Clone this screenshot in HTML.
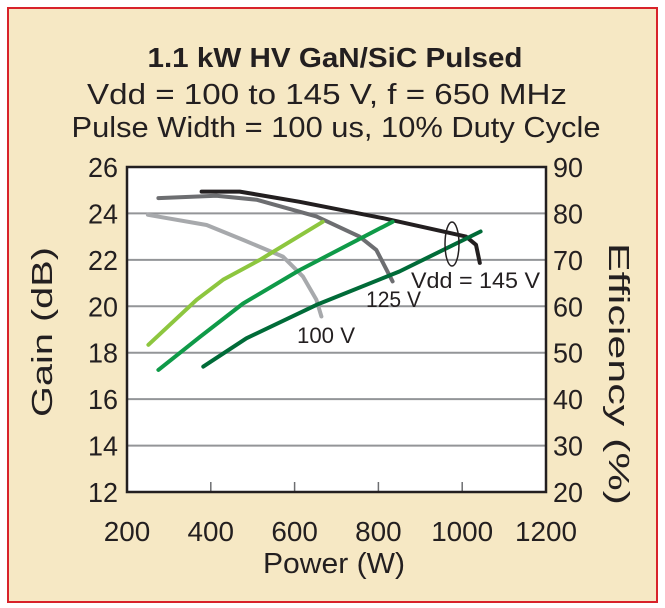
<!DOCTYPE html>
<html><head><meta charset="utf-8"><style>
html,body{margin:0;padding:0;background:#fff}
svg{display:block;font-family:"Liberation Sans",sans-serif}
</style></head><body>
<svg id="chart" width="665" height="608" viewBox="0 0 665 608">
<rect x="8" y="8" width="649" height="594" fill="#f6e8c4" stroke="#d8232a" stroke-width="2"/>
<text x="335" y="67" text-anchor="middle" font-size="28" font-weight="bold" fill="#231f20" textLength="375" lengthAdjust="spacingAndGlyphs">1.1 kW HV GaN/SiC Pulsed</text>
<text x="327" y="104" text-anchor="middle" font-size="29" fill="#231f20" textLength="480" lengthAdjust="spacingAndGlyphs">Vdd = 100 to 145 V, f = 650 MHz</text>
<text x="336" y="137" text-anchor="middle" font-size="29" fill="#231f20" textLength="529" lengthAdjust="spacingAndGlyphs">Pulse Width = 100 us, 10% Duty Cycle</text>
<rect x="127" y="167" width="419" height="325" fill="#fff"/>
<g id="grid"></g>
<g id="series"></g>
<rect x="127" y="167" width="419" height="325" fill="none" stroke="#231f20" stroke-width="2.5"/>
<ellipse cx="452" cy="244" rx="7" ry="22" fill="none" stroke="#231f20" stroke-width="1.5"/>
<text x="411" y="288" font-size="22" fill="#231f20" textLength="129" lengthAdjust="spacingAndGlyphs">Vdd = 145 V</text>
<text x="366" y="307" font-size="22" fill="#231f20" textLength="55" lengthAdjust="spacingAndGlyphs">125 V</text>
<text x="297" y="343" font-size="22" fill="#231f20" textLength="58" lengthAdjust="spacingAndGlyphs">100 V</text>
<text transform="translate(52,332) rotate(-90)" text-anchor="middle" font-size="29" fill="#231f20" textLength="170" lengthAdjust="spacingAndGlyphs">Gain (dB)</text>
<text transform="translate(609,374) rotate(90)" text-anchor="middle" font-size="29" fill="#231f20" textLength="262" lengthAdjust="spacingAndGlyphs">Efficiency (%)</text>
<text x="334" y="573" text-anchor="middle" font-size="29" fill="#231f20" textLength="142" lengthAdjust="spacingAndGlyphs">Power (W)</text>
</svg>
<script>
const xTicks=[200,400,600,800,1000,1200];
const gainTicks=[12,14,16,18,20,22,24,26];
const effTicks=[20,30,40,50,60,70,80,90];
const gainSeries=[
 {name:'gain-100v',color:'#a7a9ac',p:[250,390,477,572,620,652,664],v:[23.94,23.5,22.86,22.14,21.28,20.28,19.56]},
 {name:'gain-125v',color:'#6d6e71',p:[275,413,509,652,755,795,834],v:[24.66,24.76,24.59,23.87,23.0,22.43,21.07]},
 {name:'gain-145v',color:'#231f20',p:[378,469,612,810,1009,1033,1042],v:[24.94,24.94,24.5,23.8,23.0,22.65,21.87]}
];
const effSeries=[
 {name:'efficiency-100v',color:'#8dc63f',p:[251,366,429,517,667],v:[51.7,61.4,65.7,70,78.2]},
 {name:'efficiency-125v',color:'#0f9a48',p:[275,374,477,612,834],v:[46.3,53.4,60.6,67.8,78.2]},
 {name:'efficiency-145v',color:'#006b38',p:[382,485,652,850,1044],v:[47,53.1,60.3,67.5,76.1]}
];
const L=127,R=546,T=167,B=492;
const xS=w=>L+(w-200)/1000*(R-L);
const gS=g=>B-(g-12)/14*(B-T);
const eS=e=>B-(e-20)/70*(B-T);
const NS='http://www.w3.org/2000/svg';
const svg=document.getElementById('chart');
const grid=document.getElementById('grid');
const ser=document.getElementById('series');
function mk(tag,attrs,parent){const e=document.createElementNS(NS,tag);for(const k in attrs)e.setAttribute(k,attrs[k]);parent.appendChild(e);return e;}
gainTicks.forEach(g=>{
 if(g>12&&g<26){const l=mk('line',{x1:L,x2:R,y1:gS(g),y2:gS(g),stroke:'#939598','stroke-width':2},grid);
 
 }
 const s=String(g);
 const t=mk('text',{x:L-9,y:gS(g)+10,'text-anchor':'end','font-size':28,fill:'#231f20',textLength:s.length*15,lengthAdjust:'spacingAndGlyphs'},svg);t.textContent=s;
 
 
});
effTicks.forEach(e=>{
 const s=String(e);
 const t=mk('text',{x:R+7,y:eS(e)+10,'font-size':28,fill:'#231f20',textLength:s.length*15,lengthAdjust:'spacingAndGlyphs'},svg);t.textContent=s;
 
 
});
xTicks.forEach(w=>{
 if(w>200&&w<1200){const l=mk('line',{x1:xS(w),x2:xS(w),y1:B,y2:B-10,stroke:'#6d6e71','stroke-width':1.5},grid);
 
 }
 const s=String(w);
 const t=mk('text',{x:xS(w),y:541,'text-anchor':'middle','font-size':28,fill:'#231f20',textLength:s.length*15.5,lengthAdjust:'spacingAndGlyphs'},svg);t.textContent=s;
 
 
});
function draw(s,yf){
 const d=s.p.map((w,i)=>(i?'L':'M')+xS(w).toFixed(1)+' '+yf(s.v[i]).toFixed(1)).join(' ');
 const p=mk('path',{d:d,fill:'none',stroke:s.color,'stroke-width':4,'stroke-linecap':'round','stroke-linejoin':'round'},ser);
 
 
}
gainSeries.forEach(s=>draw(s,gS));
effSeries.forEach(s=>draw(s,eS));
</script>
</body></html>
